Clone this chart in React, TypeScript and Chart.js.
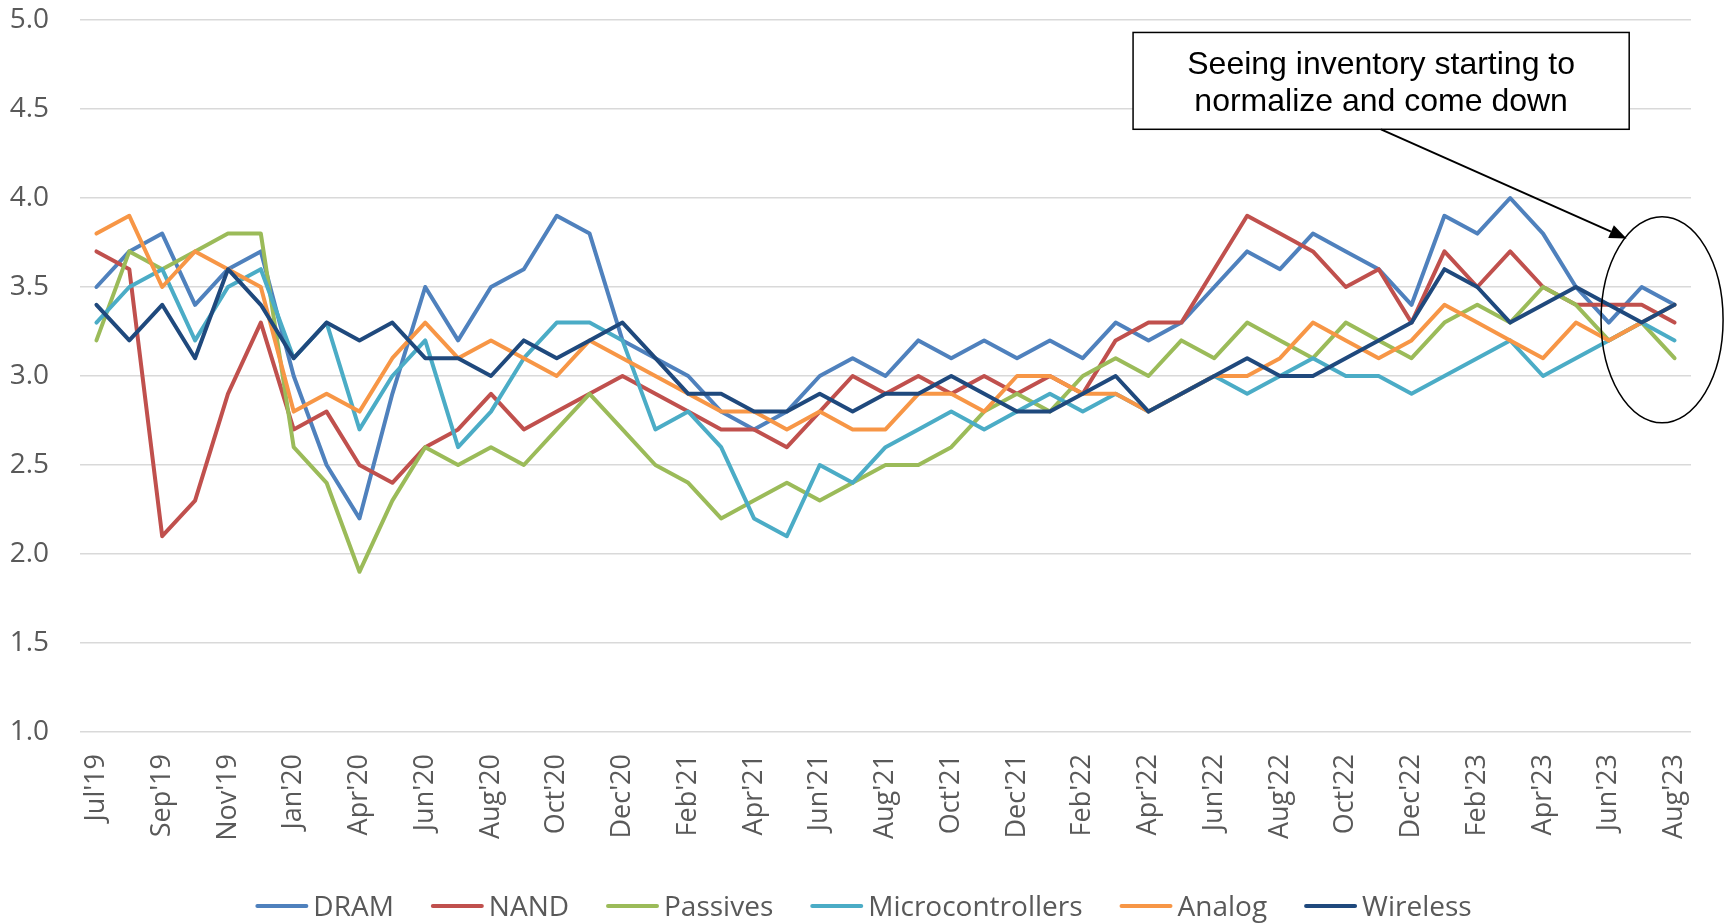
import React, { useEffect, useRef } from 'react';
import { Chart, registerables } from 'chart.js';

Chart.register(...registerables);

const categories = [
  "Jul'19", "Aug'19", "Sep'19", "Oct'19", "Nov'19", "Dec'19",
  "Jan'20", "Feb'20", "Apr'20", "May'20", "Jun'20", "Jul'20", "Aug'20", "Sep'20", "Oct'20", "Nov'20", "Dec'20",
  "Jan'21", "Feb'21", "Mar'21", "Apr'21", "May'21", "Jun'21", "Jul'21", "Aug'21", "Sep'21", "Oct'21", "Nov'21", "Dec'21",
  "Jan'22", "Feb'22", "Mar'22", "Apr'22", "May'22", "Jun'22", "Jul'22", "Aug'22", "Sep'22", "Oct'22", "Nov'22", "Dec'22",
  "Jan'23", "Feb'23", "Mar'23", "Apr'23", "May'23", "Jun'23", "Jul'23", "Aug'23",
];

const dram = [
  3.5, 3.7, 3.8, 3.4, 3.6, 3.7, 3.0, 2.5, 2.2, 2.9, 3.5, 3.2, 3.5, 3.6, 3.9, 3.8, 3.2,
  3.1, 3.0, 2.8, 2.7, 2.8, 3.0, 3.1, 3.0, 3.2, 3.1, 3.2, 3.1,
  3.2, 3.1, 3.3, 3.2, 3.3, 3.5, 3.7, 3.6, 3.8, 3.7, 3.6, 3.4,
  3.9, 3.8, 4.0, 3.8, 3.5, 3.3, 3.5, 3.4,
];
const nand = [
  3.7, 3.6, 2.1, 2.3, 2.9, 3.3, 2.7, 2.8, 2.5, 2.4, 2.6, 2.7, 2.9, 2.7, 2.8, 2.9, 3.0,
  2.9, 2.8, 2.7, 2.7, 2.6, 2.8, 3.0, 2.9, 3.0, 2.9, 3.0, 2.9,
  3.0, 2.9, 3.2, 3.3, 3.3, 3.6, 3.9, 3.8, 3.7, 3.5, 3.6, 3.3,
  3.7, 3.5, 3.7, 3.5, 3.4, 3.4, 3.4, 3.3,
];
const passives = [
  3.2, 3.7, 3.6, 3.7, 3.8, 3.8, 2.6, 2.4, 1.9, 2.3, 2.6, 2.5, 2.6, 2.5, 2.7, 2.9, 2.7,
  2.5, 2.4, 2.2, 2.3, 2.4, 2.3, 2.4, 2.5, 2.5, 2.6, 2.8, 2.9,
  2.8, 3.0, 3.1, 3.0, 3.2, 3.1, 3.3, 3.2, 3.1, 3.3, 3.2, 3.1,
  3.3, 3.4, 3.3, 3.5, 3.4, 3.2, 3.3, 3.1,
];
const microcontrollers = [
  3.3, 3.5, 3.6, 3.2, 3.5, 3.6, 3.1, 3.3, 2.7, 3.0, 3.2, 2.6, 2.8, 3.1, 3.3, 3.3, 3.2,
  2.7, 2.8, 2.6, 2.2, 2.1, 2.5, 2.4, 2.6, 2.7, 2.8, 2.7, 2.8,
  2.9, 2.8, 2.9, 2.8, 2.9, 3.0, 2.9, 3.0, 3.1, 3.0, 3.0, 2.9,
  3.0, 3.1, 3.2, 3.0, 3.1, 3.2, 3.3, 3.2,
];
const analog = [
  3.8, 3.9, 3.5, 3.7, 3.6, 3.5, 2.8, 2.9, 2.8, 3.1, 3.3, 3.1, 3.2, 3.1, 3.0, 3.2, 3.1,
  3.0, 2.9, 2.8, 2.8, 2.7, 2.8, 2.7, 2.7, 2.9, 2.9, 2.8, 3.0,
  3.0, 2.9, 2.9, 2.8, 2.9, 3.0, 3.0, 3.1, 3.3, 3.2, 3.1, 3.2,
  3.4, 3.3, 3.2, 3.1, 3.3, 3.2, 3.3, 3.4,
];
const wireless = [
  3.4, 3.2, 3.4, 3.1, 3.6, 3.4, 3.1, 3.3, 3.2, 3.3, 3.1, 3.1, 3.0, 3.2, 3.1, 3.2, 3.3,
  3.1, 2.9, 2.9, 2.8, 2.8, 2.9, 2.8, 2.9, 2.9, 3.0, 2.9, 2.8,
  2.8, 2.9, 3.0, 2.8, 2.9, 3.0, 3.1, 3.0, 3.0, 3.1, 3.2, 3.3,
  3.6, 3.5, 3.3, 3.4, 3.5, 3.4, 3.3, 3.4,
];

const seriesNames = ['DRAM', 'NAND', 'Passives', 'Microcontrollers', 'Analog', 'Wireless'];
const seriesData = [dram, nand, passives, microcontrollers, analog, wireless];
const seriesColors = ['#4F81BD', '#C0504D', '#9BBB59', '#4BACC6', '#F79646', '#1F497D'];

const yMin = 1;
const yMax = 5;
const yStep = 0.5;

const calloutLines = ['Seeing inventory starting to', 'normalize and come down'];

const FONT = '"Open Sans", "Noto Sans", sans-serif';

const calloutPlugin = {
  id: 'callout',
  afterDraw(chart: any) {
    const { ctx } = chart;
    const xs = chart.scales.x;
    const ys = chart.scales.y;
    const X = (i: number) => xs.getPixelForValue(i);
    const Y = (v: number) => ys.getPixelForValue(v);
    ctx.save();

    // text box
    const bx1 = X(31.53), bx2 = X(46.62);
    const by1 = Y(4.93), by2 = Y(4.386);
    ctx.lineWidth = 1.5;
    ctx.strokeStyle = '#000000';
    ctx.fillStyle = '#ffffff';
    ctx.fillRect(bx1, by1, bx2 - bx1, by2 - by1);
    ctx.strokeRect(bx1, by1, bx2 - bx1, by2 - by1);
    ctx.fillStyle = '#000000';
    ctx.font = '32px "Liberation Sans", Arial, sans-serif';
    ctx.textAlign = 'center';
    ctx.textBaseline = 'alphabetic';
    const cx = (bx1 + bx2) / 2;
    const h = by2 - by1;
    ctx.fillText(calloutLines[0], cx, by1 + h * 0.425);
    ctx.fillText(calloutLines[1], cx, by1 + h * 0.806);

    // arrow
    const ax1 = X(39.07), ay1 = by2;
    const ax2 = X(46.54), ay2 = Y(3.772);
    const ang = Math.atan2(ay2 - ay1, ax2 - ax1);
    const headLen = 17, headHalf = 7;
    const baseX = ax2 - headLen * Math.cos(ang);
    const baseY = ay2 - headLen * Math.sin(ang);
    ctx.lineWidth = 2;
    ctx.beginPath();
    ctx.moveTo(ax1, ay1);
    ctx.lineTo(baseX, baseY);
    ctx.stroke();
    ctx.beginPath();
    ctx.moveTo(ax2, ay2);
    ctx.lineTo(baseX + headHalf * Math.sin(ang), baseY - headHalf * Math.cos(ang));
    ctx.lineTo(baseX - headHalf * Math.sin(ang), baseY + headHalf * Math.cos(ang));
    ctx.closePath();
    ctx.fill();

    // ellipse
    const ecx = X(47.62), ecy = Y(3.316);
    const erx = X(47.62 + 1.856) - ecx;
    const ery = Y(3.316 - 0.579) - ecy;
    ctx.lineWidth = 1.5;
    ctx.beginPath();
    ctx.ellipse(ecx, ecy, Math.abs(erx), Math.abs(ery), 0, 0, Math.PI * 2);
    ctx.stroke();
    ctx.restore();
  },
};

const bottomLegendPlugin = {
  id: 'bottomLegend',
  afterDraw(chart: any) {
    const { ctx } = chart;
    ctx.save();
    ctx.font = `28px ${FONT}`;
    const lineLen = 53;
    const gap = 5;
    const itemGap = 37;
    const items = chart.data.datasets.map((ds: any) => ({
      text: ds.label as string,
      color: ds.borderColor as string,
      w: ctx.measureText(ds.label).width as number,
    }));
    const total = items.reduce((s: number, it: any) => s + lineLen + gap + it.w, 0) + itemGap * (items.length - 1);
    let x = chart.width / 2 + 1 - total / 2;
    const yLine = chart.height - 18;
    const yText = yLine + 10;
    ctx.textAlign = 'left';
    ctx.textBaseline = 'alphabetic';
    items.forEach((it: any) => {
      ctx.strokeStyle = it.color;
      ctx.lineWidth = 4;
      ctx.lineCap = 'round';
      ctx.beginPath();
      ctx.moveTo(x + 2, yLine);
      ctx.lineTo(x + lineLen - 2, yLine);
      ctx.stroke();
      ctx.fillStyle = '#595959';
      ctx.fillText(it.text, x + lineLen + gap, yText);
      x += lineLen + gap + it.w + itemGap;
    });
    ctx.restore();
  },
};

export default function App() {
  const canvasRef = useRef<HTMLCanvasElement | null>(null);

  useEffect(() => {
    document.body.style.margin = '0';
    const canvas = canvasRef.current;
    if (!canvas) return;
    Chart.defaults.font.family = FONT;
    const chart = new Chart(canvas, {
      type: 'line',
      data: {
        labels: categories,
        datasets: seriesNames.map((name, i) => ({
          label: name,
          data: seriesData[i],
          borderColor: seriesColors[i],
          backgroundColor: seriesColors[i],
          borderWidth: 4,
          pointRadius: 0,
          pointHoverRadius: 0,
          tension: 0,
          fill: false,
          borderJoinStyle: 'round',
          borderCapStyle: 'round',
          order: seriesNames.length - i,
        })),
      },
      options: {
        animation: false,
        responsive: true,
        maintainAspectRatio: false,
        layout: { padding: { left: 0, right: 34, top: 20, bottom: 62 } },
        plugins: {
          tooltip: { enabled: false },
          legend: { display: false },
        },
        scales: {
          x: {
            type: 'category',
            offset: true,
            grid: {
              display: true,
              drawOnChartArea: false,
              drawTicks: true,
              tickLength: 22,
              color: 'rgba(0,0,0,0)',
              tickColor: 'rgba(0,0,0,0)',
            },
            border: { display: false },
            ticks: {
              autoSkip: false,
              minRotation: 90,
              maxRotation: 90,
              padding: 0,
              color: '#595959',
              font: { size: 27 },
              callback: function (this: any, val: any, index: number) {
                return index % 2 === 0 ? this.getLabelForValue(val) : '';
              },
            },
            afterFit: (scale: any) => {
              scale.height = 130;
            },
          },
          y: {
            min: yMin,
            max: yMax,
            grid: {
              color: '#D9D9D9',
              lineWidth: 1.5,
              drawTicks: true,
              tickLength: 31,
              tickColor: 'rgba(0,0,0,0)',
            },
            border: { display: false },
            ticks: {
              stepSize: yStep,
              padding: 0,
              color: '#595959',
              font: { size: 28 },
              callback: (v: any) => Number(v).toFixed(1),
            },
            afterFit: (scale: any) => {
              scale.width = 80;
            },
          },
        },
      },
      plugins: [calloutPlugin, bottomLegendPlugin],
    });
    return () => chart.destroy();
  }, []);

  return (
    <div style={{ position: 'fixed', left: 0, top: 0, width: '1725px', height: '924px', background: '#ffffff' }}>
      <canvas ref={canvasRef} />
    </div>
  );
}
